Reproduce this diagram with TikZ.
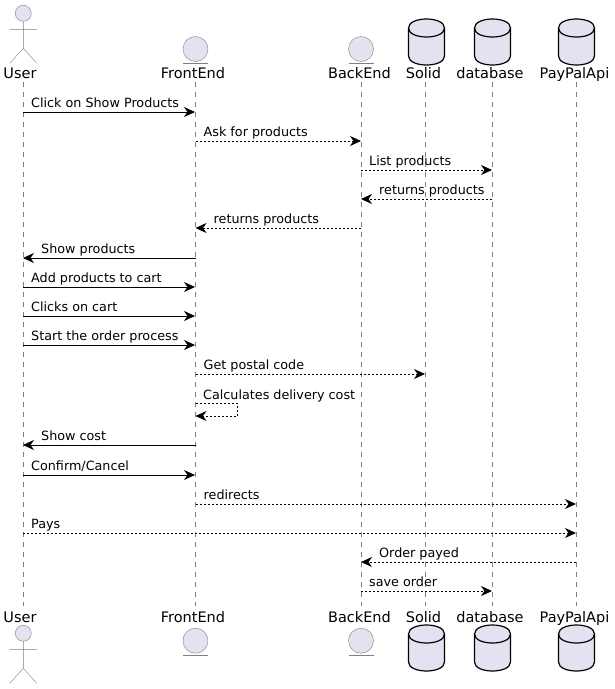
\documentclass[tikz,border=0pt]{standalone}
\usepackage{fontspec}
\setmainfont{DejaVu Sans}
\usetikzlibrary{arrows.meta}

\definecolor{partfill}{HTML}{E2E2F0}
\definecolor{partline}{HTML}{7F7F7F}

\tikzset{
  actor/.pic={
    \draw[partline,fill=partfill] (0,0) circle (8);
    \draw[partline] (0,8) -- (0,35) (-13.5,16) -- (13.5,16) (-13.5,50) -- (0,35) -- (13.5,50);
  },
  entity/.pic={
    \draw[partline,fill=partfill] (0,0) circle (12.5);
    \draw[partline] (-12.5,14) -- (12.5,14);
  },
  dbase/.pic={
    \draw[black,line width=1.2pt,fill=partfill] (-18,9) .. controls (-18,-3) and (18,-3) .. (18,9) -- (18,37)
      .. controls (18,49) and (-18,49) .. (-18,37) -- cycle;
    \draw[black,line width=1.2pt] (-18,9) .. controls (-18,21) and (18,21) .. (18,9);
  },
  part name/.style={font=\fontsize{14.5}{16}\selectfont,inner sep=0pt,anchor=base},
  msg name/.style={font=\fontsize{12.75}{15}\selectfont,inner sep=0pt,anchor=base west},
  life line/.style={partline,dash pattern=on 5pt off 5pt},
  call/.style={-{Stealth[length=11pt,width=10pt,inset=3.5pt]},black,line width=0.8pt},
  back/.style={call,dash pattern=on 2pt off 2pt}
}

% one arrow: style, from, to, y, label
\newcommand{\msgright}[5]{
  \coordinate (a#4) at (#2,#4);
  \coordinate (b#4) at (#3,#4);
  \draw[#1] (a#4) -- (b#4);
  \node[msg name] (t#4) at ([xshift=8pt,yshift=4.6pt]a#4) {#5};
}
\newcommand{\msgleft}[5]{
  \coordinate (a#4) at (#2,#4);
  \coordinate (b#4) at (#3,#4);
  \draw[#1] (a#4) -- (b#4);
  \node[msg name] (t#4) at ([xshift=18pt,yshift=4.6pt]b#4) {#5};
}

\begin{document}
\begin{tikzpicture}[x=1pt,y=-1pt]
  \useasboundingbox (0,0) rectangle (614,689);

  % top row
  \node[part name] (User) at (20,78) {User};
  \node[part name] (FrontEnd) at (193,78) {FrontEnd};
  \node[part name] (BackEnd) at (359.5,78) {BackEnd};
  \node[part name] (Solid) at (423.5,78) {Solid};
  \node[part name] (database) at (490,78) {database};
  \node[part name] (PayPalApi) at (574.5,78) {PayPalApi};

  % bottom row
  \node[part name] (User2) at (20,622) {User};
  \node[part name] (FrontEnd2) at (193,622) {FrontEnd};
  \node[part name] (BackEnd2) at (359.5,622) {BackEnd};
  \node[part name] (Solid2) at (423.5,622) {Solid};
  \node[part name] (database2) at (490,622) {database};
  \node[part name] (PayPalApi2) at (574.5,622) {PayPalApi};

  % lifelines
  \draw[life line] (23,82) -- (23,606);
  \draw[life line] (195.5,82) -- (195.5,606);
  \draw[life line] (361,82) -- (361,606);
  \draw[life line] (425,82) -- (425,606);
  \draw[life line] (492,82) -- (492,606);
  \draw[life line] (576,82) -- (576,606);

  % heads
  \pic at (23.3,13.3) {actor};
  \pic at (195.5,49) {entity};
  \pic at (361,49) {entity};
  \pic at (426.5,19) {dbase};
  \pic at (492.5,19) {dbase};
  \pic at (576.5,19) {dbase};
  \pic at (23.3,633.3) {actor};
  \pic at (195.5,640.7) {entity};
  \pic at (361,640.7) {entity};
  \pic at (426.5,625) {dbase};
  \pic at (492.5,625) {dbase};
  \pic at (576.5,625) {dbase};

  \msgright{call}{23}{195}{112}{Click on Show Products}
  \msgright{back}{195.5}{361}{141}{Ask for products}
  \msgright{back}{361}{492}{170}{List products}
  \msgleft{back}{492}{361}{199}{returns products}
  \msgleft{back}{361}{195.5}{228}{returns products}
  \msgleft{call}{195.5}{23}{258}{Show products}
  \msgright{call}{23}{195}{287}{Add products to cart}
  \msgright{call}{23}{195}{316}{Clicks on cart}
  \msgright{call}{23}{195}{345}{Start the order process}
  \msgright{back}{195.5}{425}{374}{Get postal code}

  % self call
  \node[msg name] (selfcall) at (203,399) {Calculates delivery cost};
  \coordinate (s1) at (195.5,403.5);
  \coordinate (s2) at (195.5,416);
  \draw[back] (s1) -- (237.5,403.5) -- (237.5,416) -- (s2);

  \msgleft{call}{195.5}{23}{445}{Show cost}
  \msgright{call}{23}{195}{475}{Confirm/Cancel}
  \msgright{back}{195.5}{576}{504}{redirects}
  \msgright{back}{23}{576}{533}{Pays}
  \msgleft{back}{576}{361}{562}{Order payed}
  \msgright{back}{361}{492}{591}{save order}
\end{tikzpicture}
\end{document}
